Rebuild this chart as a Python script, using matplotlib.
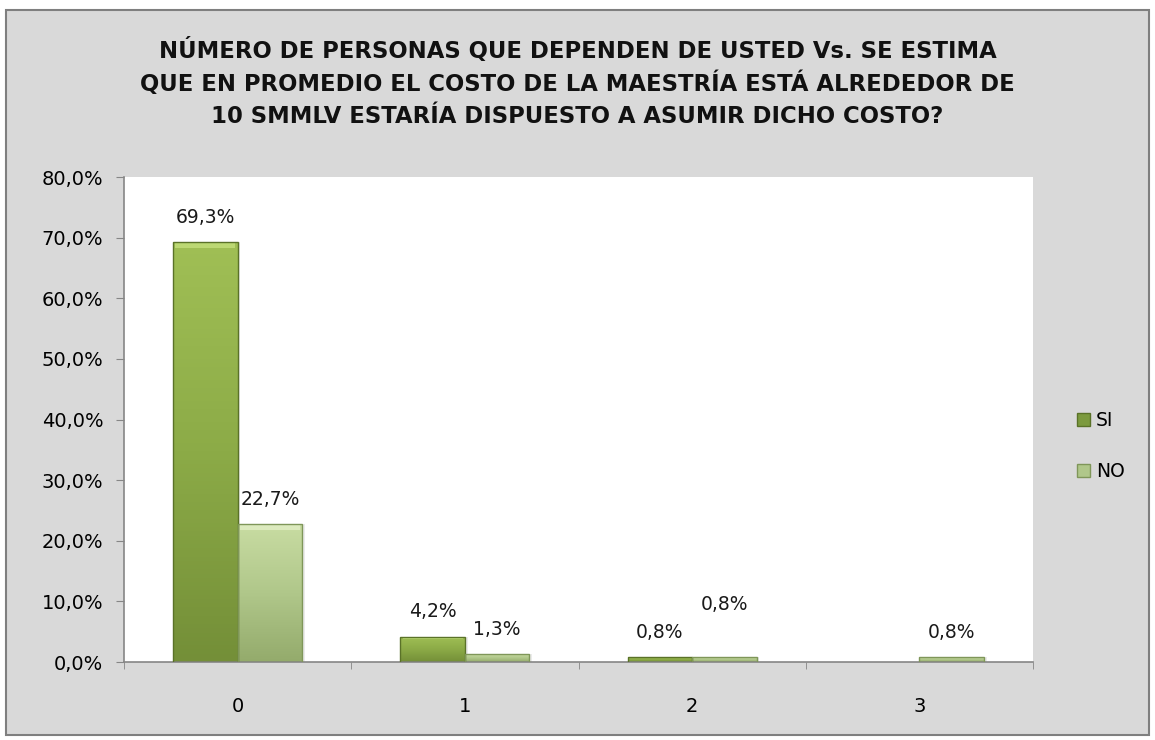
import numpy as np
import matplotlib
matplotlib.use("Agg")
import matplotlib.pyplot as plt
from matplotlib.colors import LinearSegmentedColormap
from matplotlib.patches import Rectangle

categories = ["0", "1", "2", "3"]
si_values = [69.3, 4.2, 0.8, 0.0]
no_values = [22.7, 1.3, 0.8, 0.8]
si_labels = ["69,3%", "4,2%", "0,8%", None]
no_labels = ["22,7%", "1,3%", "0,8%", "0,8%"]
yticks = [0, 10, 20, 30, 40, 50, 60, 70, 80]
title = ("NÚMERO DE PERSONAS QUE DEPENDEN DE USTED Vs. SE ESTIMA\n"
         "QUE EN PROMEDIO EL COSTO DE LA MAESTRÍA ESTÁ ALREDEDOR DE\n"
         "10 SMMLV ESTARÍA DISPUESTO A ASUMIR DICHO COSTO?")

plt.rcParams["font.family"] = ["DejaVu Sans"]

BG = "#d9d9d9"
fig = plt.figure(figsize=(11.55, 7.4), dpi=100)
fig.patch.set_facecolor("white")
fig.patches.append(Rectangle((0.005, 0.007), 0.990, 0.980, transform=fig.transFigure,
                             facecolor=BG, edgecolor="#7f7f7f", lw=1.5, zorder=-10))

ax = fig.add_axes([0.1074, 0.1054, 0.787, 0.6554])
ax.set_facecolor("white")

x = np.arange(len(categories))
w = 0.284

si_cmap = LinearSegmentedColormap.from_list("si", ["#a0bf55", "#8cab47", "#748f38"])
no_cmap = LinearSegmentedColormap.from_list("no", ["#c8dca2", "#b0c78a", "#94ab6c"])
grad = np.linspace(0, 1, 100).reshape(-1, 1)


def draw_bars(xs, vals, cmap, edge, top):
    bars = ax.bar(xs, vals, width=w, color="none", edgecolor=edge, lw=1.0, zorder=3)
    for b, v in zip(bars, vals):
        if v <= 0:
            b.set_visible(False)
            continue
        x0 = b.get_x()
        # soft shadow right of the bar
        ax.add_patch(Rectangle((x0 + 0.012, 0), w, v, facecolor="#000000", alpha=0.08,
                               edgecolor="none", zorder=1.5))
        im = ax.imshow(grad, extent=(x0, x0 + w, 0, v), cmap=cmap, aspect="auto",
                       origin="upper", zorder=2)
        im.set_clip_path(b)
        # lighter bevel on top of the bar
        bev = min(v * 0.08, 1.0)
        ax.add_patch(Rectangle((x0 + 0.01, v - bev), w - 0.02, bev, facecolor=top,
                               edgecolor="none", alpha=0.75, zorder=2.5))
    return bars


draw_bars(x - w / 2, si_values, si_cmap, "#5a7228", "#c6e27e")
draw_bars(x + w / 2, no_values, no_cmap, "#7f9659", "#e4f0c8")

# data labels (Excel placed the second 0,8% higher)
extra_no = [0, 0, 20, 0]
for i in range(len(categories)):
    if si_labels[i]:
        ax.annotate(si_labels[i], (x[i] - w / 2, si_values[i]), xytext=(0, 11),
                    textcoords="offset points", ha="center", va="bottom", fontsize=13.5,
                    color="#1a1a1a")
    if no_labels[i]:
        ax.annotate(no_labels[i], (x[i] + w / 2, no_values[i]), xytext=(0, 11 + extra_no[i]),
                    textcoords="offset points", ha="center", va="bottom", fontsize=13.5,
                    color="#1a1a1a")

ax.set_xlim(-0.5, len(categories) - 0.5)
ax.set_ylim(0, 80)
ax.set_yticks(yticks)
ax.set_yticklabels([f"{v:.1f}%".replace(".", ",") for v in yticks], fontsize=14)
ax.set_xticks(x)
ax.set_xticklabels(categories, fontsize=14)
ax.set_xticks(np.arange(len(categories) + 1) - 0.5, minor=True)
ax.tick_params(axis="x", which="major", length=0, pad=25)
ax.tick_params(axis="x", which="minor", length=5, color="#868686", direction="out")
ax.tick_params(axis="y", length=6, color="#868686", pad=9)
for s in ["top", "right"]:
    ax.spines[s].set_visible(False)
for s in ["left", "bottom"]:
    ax.spines[s].set_color("#868686")
    ax.spines[s].set_linewidth(1.2)

fig.text(0.5, 0.888, title, ha="center", va="center", fontsize=16.4, fontweight="bold",
         linespacing=1.45, color="#111111")

handles = [Rectangle((0, 0), 1, 1, facecolor="#7c9a3e", edgecolor="#5a7228"),
           Rectangle((0, 0), 1, 1, facecolor="#b0c78a", edgecolor="#7f9659")]
fig.legend(handles, ["SI", "NO"], loc="center left", bbox_to_anchor=(0.918, 0.397),
           frameon=False, fontsize=13.5, handlelength=0.7, handleheight=0.7,
           handletextpad=0.3, labelspacing=1.7)

fig.savefig("out.png", dpi=100, facecolor=fig.get_facecolor())
